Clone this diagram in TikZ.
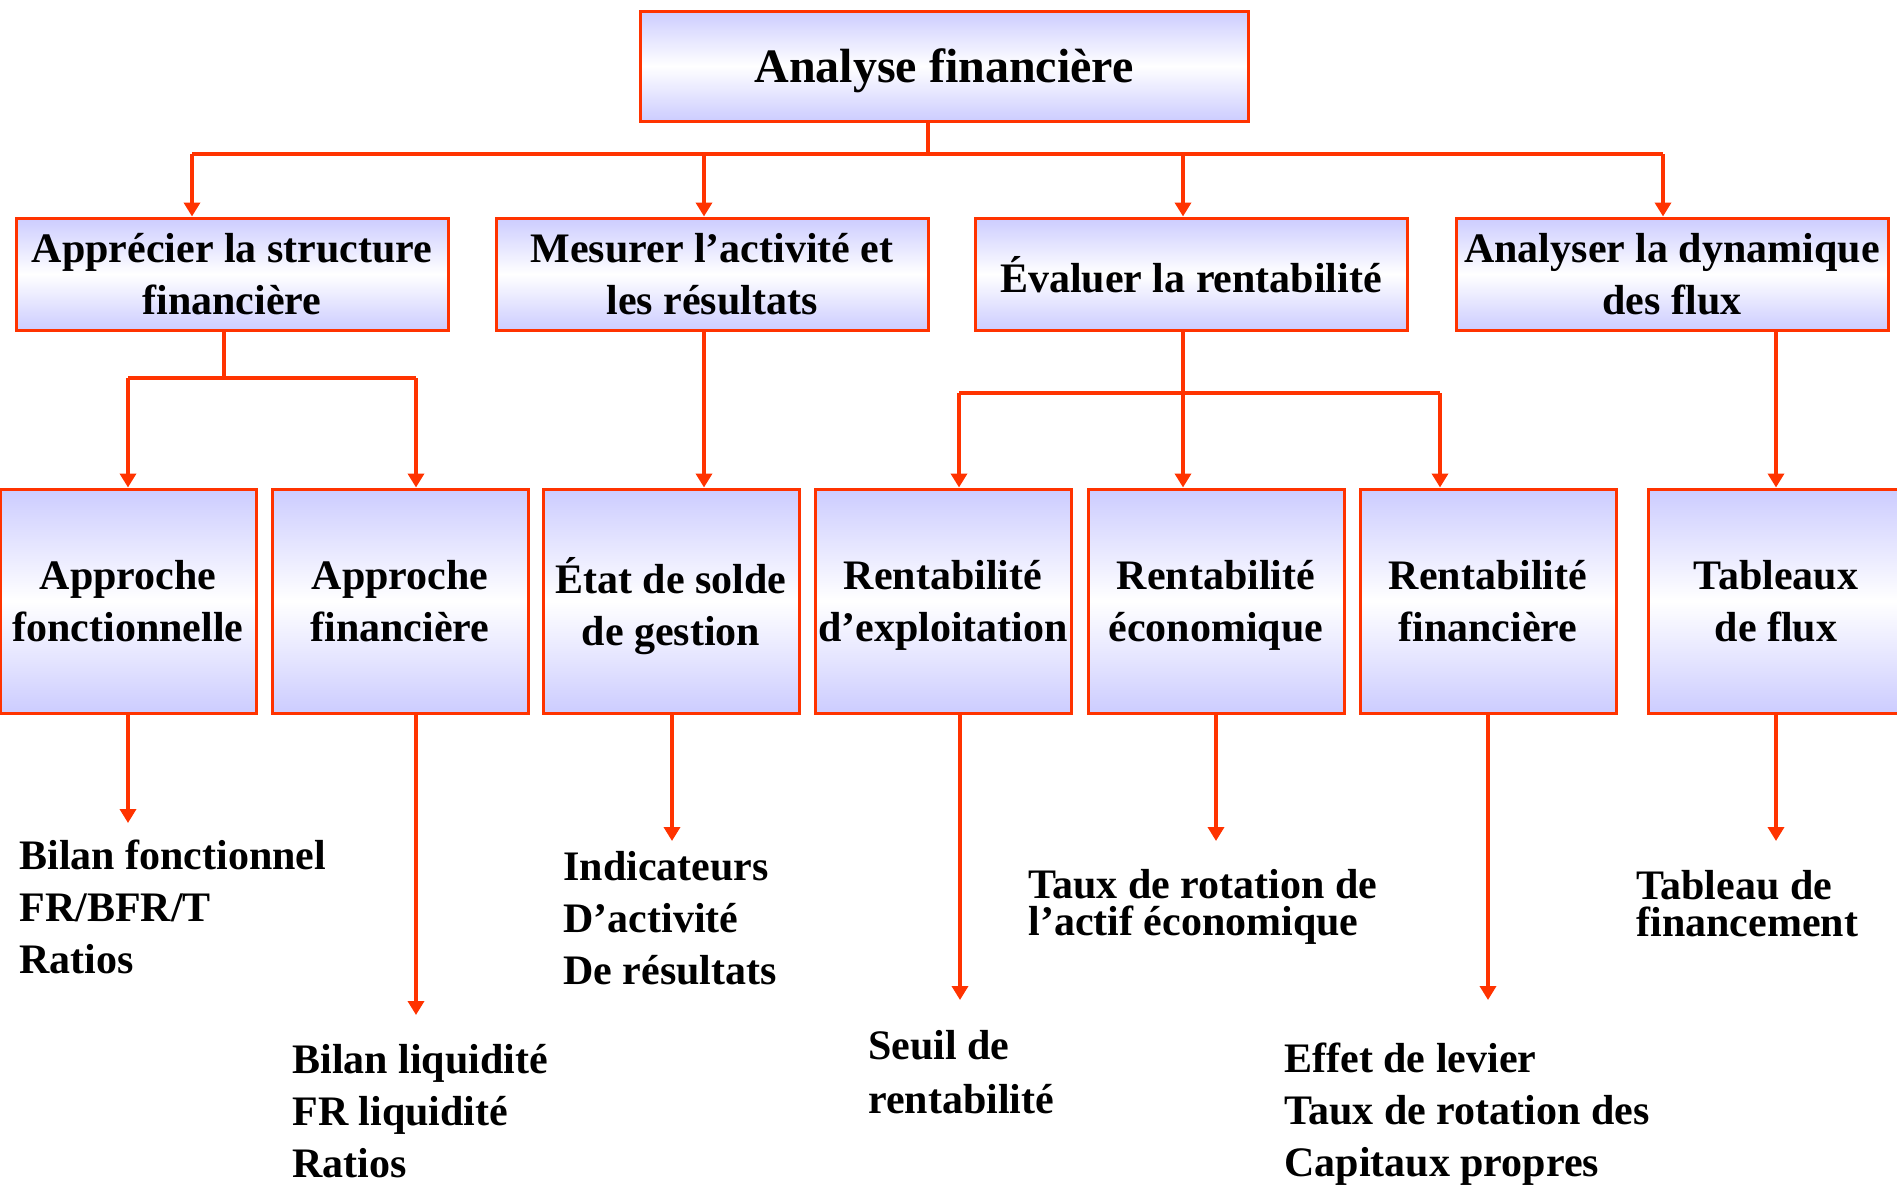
\documentclass[tikz,border=0pt]{standalone}
\usepackage{fontspec}
\setmainfont{Liberation Serif}
\usetikzlibrary{positioning, arrows.meta}

\definecolor{rougelien}{HTML}{FF3300}
\definecolor{lavande}{HTML}{CCCCFF}

\begin{document}
\begin{tikzpicture}[x=0.5pt, y=-0.5pt,
        boite/.style={rectangle, draw=rougelien, line width=1.5pt, top color=lavande, bottom color=lavande, middle color=white, align=center, inner sep=1pt, text depth=0pt, font=\bfseries\fontsize{21}{26}\selectfont},
        haut/.style={boite, minimum width=216pt, minimum height=56pt},
        bas/.style={boite, minimum width=128pt, minimum height=112pt},
        liste/.style={anchor=base west, align=left, inner sep=0pt, font=\bfseries\fontsize{21}{26}\selectfont},
        serre/.style={liste, font=\bfseries\fontsize{21}{18.5}\selectfont},
        trait/.style={draw=rougelien, line width=2pt},
        fleche/.style={trait, -{Triangle[width=8pt, length=7pt]}}]
        \useasboundingbox (0,0) rectangle (1897,1185);

        \node (af) [boite, minimum width=304pt, minimum height=55pt, font=\bfseries\fontsize{24}{29}\selectfont] at (944,66) {Analyse financière};

        \node (as) [haut] at (232,274) {Apprécier la structure\\financière};
        \node (ma) [haut] at (712,274) {Mesurer l’activité et\\les résultats};
        \node (er) [haut] at (1191,274) {Évaluer la rentabilité};
        \node (ad) [haut] at (1672,274) {Analyser la dynamique\\des flux};

        \node (fo) [bas] at (128,601) {Approche\\fonctionnelle};
        \node (fi) [bas] at (400,601) {Approche\\financière};
        \node (sg) [bas] at (671,601) {État de solde\\de gestion};
        \node (rx) [bas] at (943,601) {Rentabilité\\d’exploitation};
        \node (re) [bas] at (1216,601) {Rentabilité\\économique};
        \node (rf) [bas] at (1488,601) {Rentabilité\\financière};
        \node (tf) [bas] at (1776,601) {Tableaux\\de flux};

        % ancre sur la derniere ligne
        \node (t1) [liste] at (19,973) {Bilan fonctionnel\\FR/BFR/T\\Ratios};
        \node (t2) [liste] at (292,1177) {Bilan liquidité\\FR liquidité\\Ratios};
        \node (t3) [liste] at (563,984) {Indicateurs\\D’activité\\De résultats};
        \node (t4) [liste, font=\bfseries\fontsize{21}{27}\selectfont] at (868,1113) {Seuil de\\rentabilité};
        \node (t5) [serre] at (1028,935) {Taux de rotation de\\l’actif économique};
        \node (t6) [liste] at (1284,1176) {Effet de levier\\Taux de rotation des\\Capitaux propres};
        \node (t7) [serre] at (1636,936) {Tableau de\\financement};

        % premier niveau
        \coordinate (j0) at (928,154);
        \coordinate (c1) at (192,154);
        \coordinate (c2) at (704,154);
        \coordinate (c3) at (1183,154);
        \coordinate (c4) at (1663,154);
        \draw [trait] (af.south -| j0) -- (j0);
        \draw [trait] (c1) -- (c4);
        \foreach \c/\n in {c1/as, c2/ma, c3/er, c4/ad}
            \draw [fleche] (\c) -- (\c |- \n.north);

        % second niveau
        \coordinate (d0) at (224,378);
        \coordinate (d1) at (128,378);
        \coordinate (d2) at (416,378);
        \draw [trait] (as.south -| d0) -- (d0);
        \draw [trait] (d1) -- (d2);
        \draw [fleche] (d1) -- (d1 |- fo.north);
        \draw [fleche] (d2) -- (d2 |- fi.north);

        \draw [fleche] (ma.south -| c2) -- (c2 |- sg.north);

        \coordinate (r1) at (959,393);
        \coordinate (r3) at (1440,393);
        \draw [trait] (r1) -- (r3);
        \draw [fleche] (er.south -| c3) -- (c3 |- re.north);
        \draw [fleche] (r1) -- (r1 |- rx.north);
        \draw [fleche] (r3) -- (r3 |- rf.north);

        \coordinate (a4) at (1776,393);
        \draw [fleche] (ad.south -| a4) -- (a4 |- tf.north);

        % vers les listes
        \coordinate (f1) at (128,823);
        \coordinate (f2) at (416,1015);
        \coordinate (f3) at (672,841);
        \coordinate (f4) at (960,1000);
        \coordinate (f5) at (1216,841);
        \coordinate (f6) at (1488,1000);
        \coordinate (f7) at (1776,841);
        \foreach \n/\f in {fo/f1, fi/f2, sg/f3, rx/f4, re/f5, rf/f6, tf/f7}
            \draw [fleche] (\n.south -| \f) -- (\f);
\end{tikzpicture}
\end{document}
